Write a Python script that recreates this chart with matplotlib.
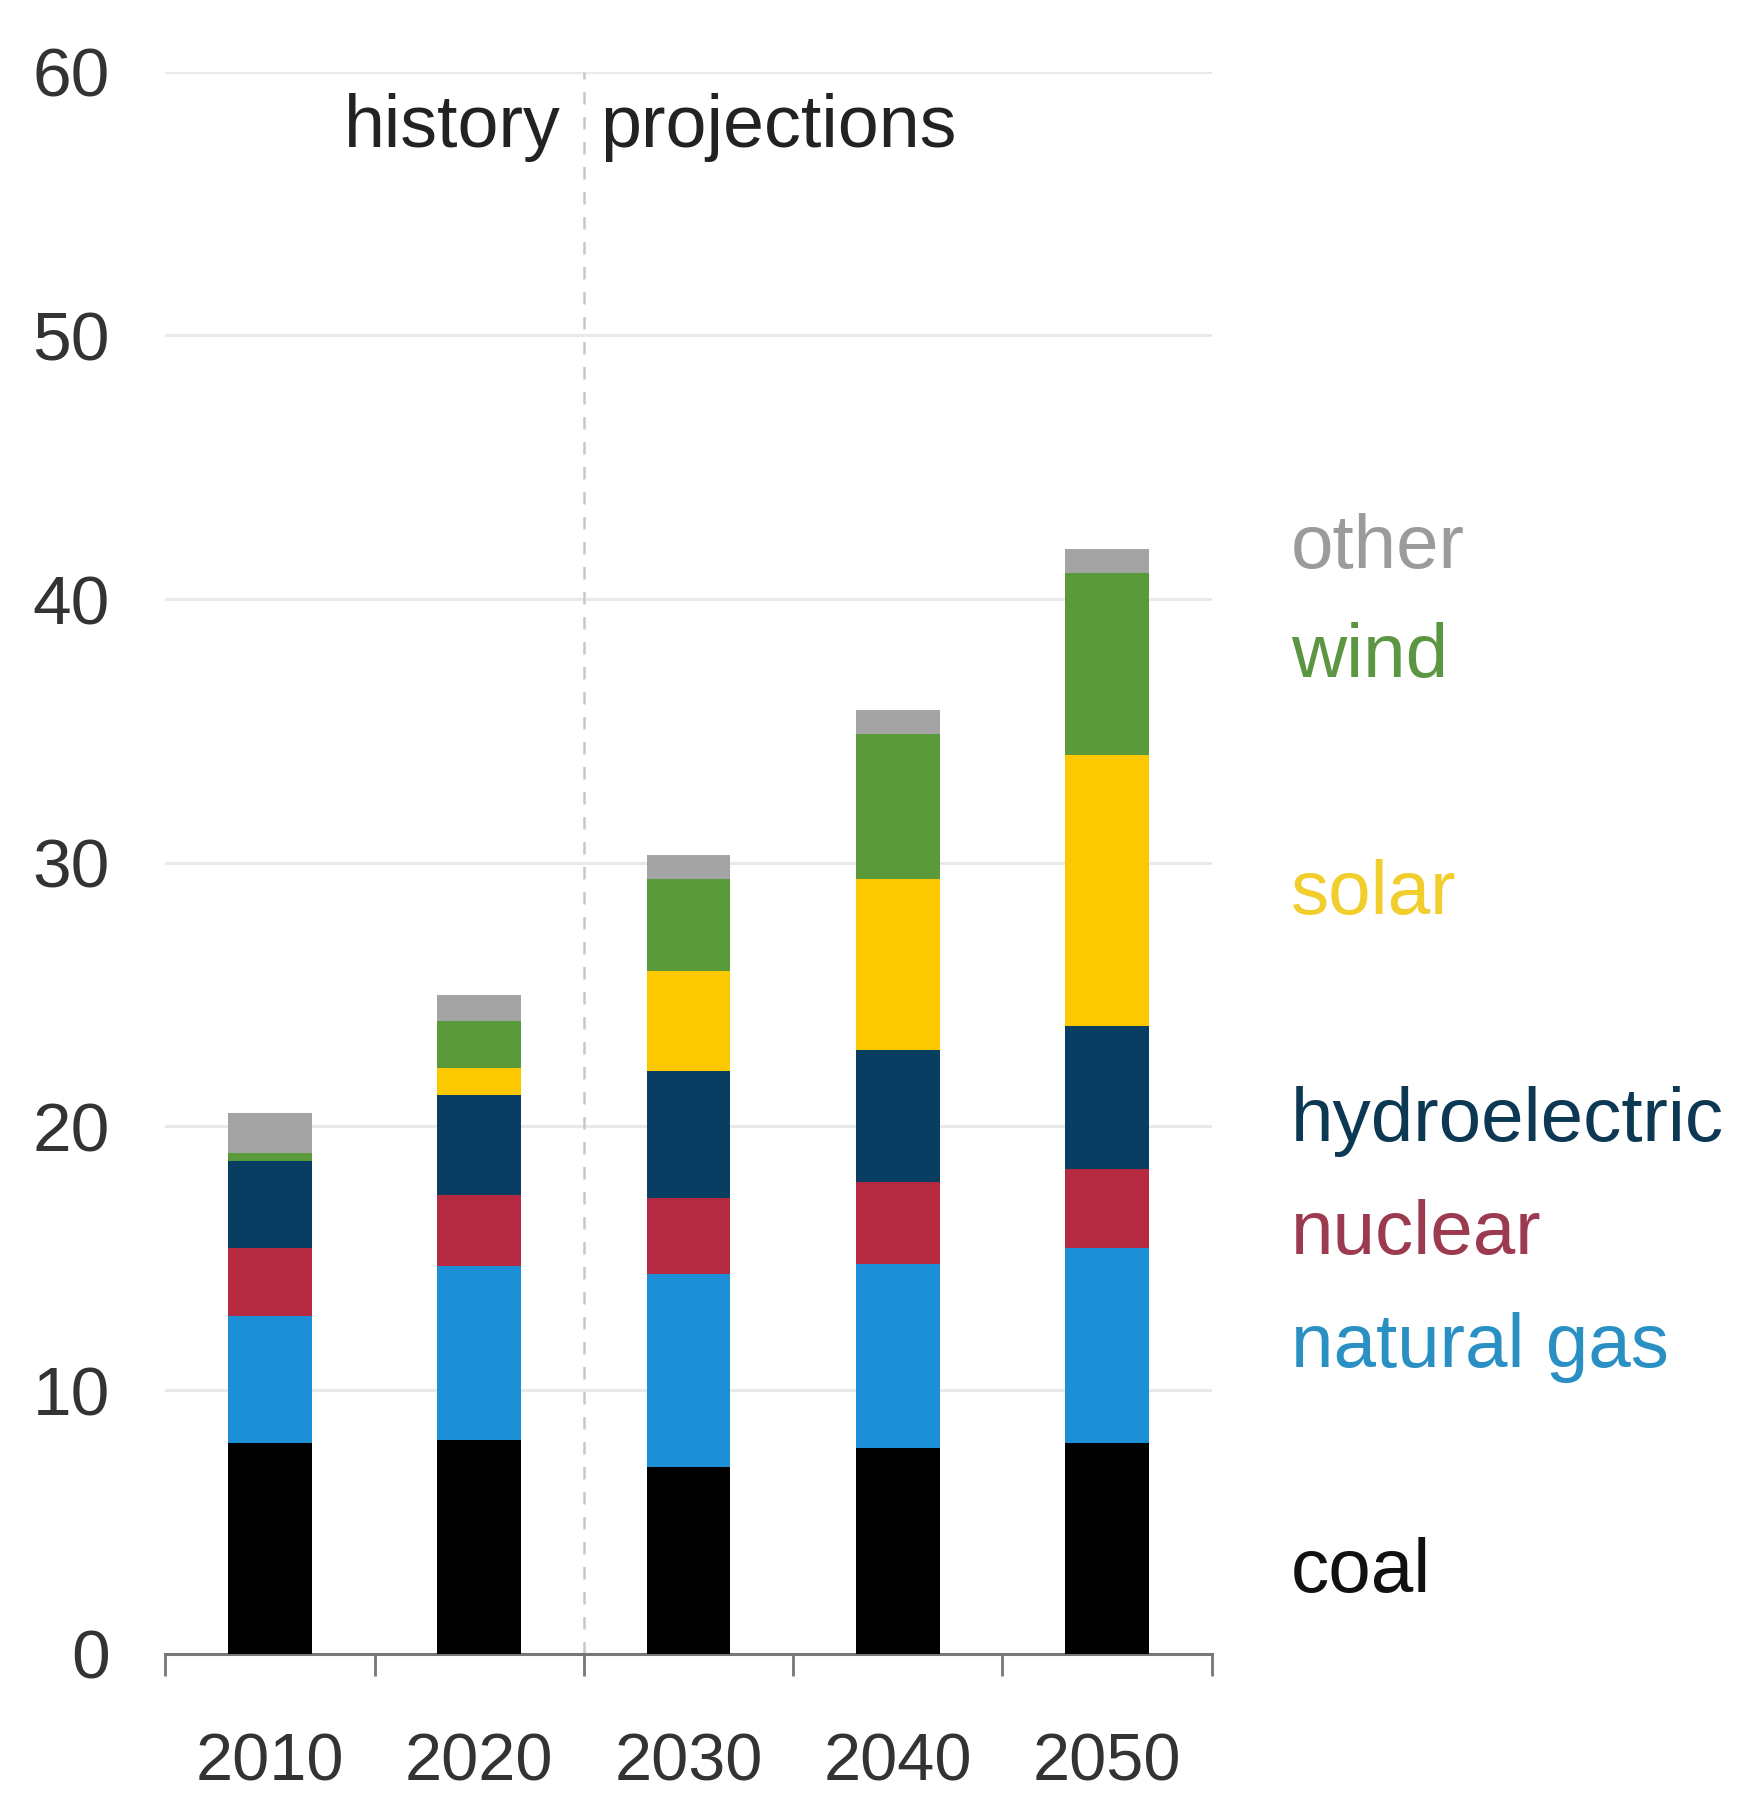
import numpy as np
import matplotlib
matplotlib.use("Agg")
import matplotlib.pyplot as plt

plt.rcParams['font.family'] = ['Liberation Sans', 'DejaVu Sans']

years = ['2010', '2020', '2030', '2040', '2050']
sources = ['coal', 'natural gas', 'nuclear', 'hydroelectric', 'solar', 'wind', 'other']

coal = [8.0, 8.1, 7.1, 7.8, 8.0]
natural_gas = [4.8, 6.6, 7.3, 7.0, 7.4]
nuclear = [2.6, 2.7, 2.9, 3.1, 3.0]
hydroelectric = [3.3, 3.8, 4.8, 5.0, 5.4]
solar = [0.0, 1.0, 3.8, 6.5, 10.3]
wind = [0.3, 1.8, 3.5, 5.5, 6.9]
other = [1.5, 1.0, 0.9, 0.9, 0.9]

bar_colors = ['#000000', '#1c8fd6', '#b52a40', '#083e61', '#fcc800', '#5a9a3b', '#a4a4a4']
text_colors = ['#111111', '#2a90c4', '#9c3a50', '#0c3853', '#f1ce2c', '#5c9642', '#9b9b9b']
label_y = [3.1, 11.6, 15.9, 20.2, 28.8, 37.8, 41.9]

fig = plt.figure(figsize=(17.48, 18.16), dpi=100)
ax = fig.add_axes([0.0946, 0.0893, 0.5985, 0.8712])

x = np.arange(len(years)) + 0.5
bottom = np.zeros(len(years))
for vals, col in zip([coal, natural_gas, nuclear, hydroelectric, solar, wind, other], bar_colors):
    ax.bar(x, vals, width=0.4, bottom=bottom, color=col, zorder=3)
    bottom += np.array(vals)

ax.set_xlim(0, 5)
ax.set_ylim(0, 60)

# gridlines
ax.set_yticks(np.arange(0, 61, 10))
ax.grid(axis='y', color='#e9e9e9', linewidth=2.2, zorder=0)
ax.set_axisbelow(True)

# x ticks: marks at boundaries, labels at bar centres
ax.set_xticks(np.arange(0, 6), labels=[''] * 6)
ax.set_xticks(x, labels=years, minor=True)
ax.tick_params(axis='x', which='major', length=16, width=2, color='#777777', direction='out')
ax.tick_params(axis='x', which='minor', length=0, pad=57, labelsize=48, labelcolor='#333333')
ax.tick_params(axis='y', length=0, pad=40, labelsize=50, labelcolor='#333333')

for s in ['top', 'right', 'left']:
    ax.spines[s].set_visible(False)
ax.spines['bottom'].set_color('#777777')
ax.spines['bottom'].set_linewidth(2.2)

# history / projections divider
ax.axvline(2.0, ymin=0, ymax=1, color='#c8c8c8', linestyle=(0, (5, 5)), linewidth=1.8, zorder=1)
ax.text(1.89, 57.9, 'history', ha='right', va='center', fontsize=53, color='#222222')
ax.text(2.08, 57.9, 'projections', ha='left', va='center', fontsize=53, color='#222222')

# direct labels on the right
for name, col, yy in zip(sources, text_colors, label_y):
    ax.text(5.38, yy, name, ha='left', va='center', fontsize=55, color=col, clip_on=False)

fig.savefig('out.png', dpi=100, facecolor='white')
